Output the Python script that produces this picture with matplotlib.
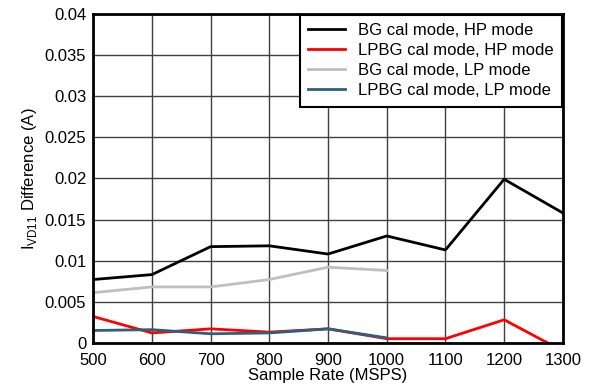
import matplotlib
matplotlib.use("Agg")
import matplotlib.pyplot as plt

plt.rcParams['font.family'] = ['Liberation Sans', 'DejaVu Sans']

# sample rates (MSPS)
rate = [500, 600, 700, 800, 900, 1000, 1100, 1200, 1300]
rate_lp = [500, 600, 700, 800, 900, 1000]

bg_hp = [0.0077, 0.0083, 0.0117, 0.0118, 0.0108, 0.0130, 0.0113, 0.0199, 0.0158]
lpbg_hp = [0.0032, 0.0012, 0.0017, 0.0013, 0.0017, 0.0005, 0.0005, 0.0028, -0.0010]
bg_lp = [0.0061, 0.0068, 0.0068, 0.0077, 0.0092, 0.0088]
lpbg_lp = [0.0015, 0.0016, 0.0011, 0.0012, 0.0017, 0.0006]

fig = plt.figure(figsize=(5.9, 3.9), dpi=100)
ax = fig.add_axes([0.158, 0.121, 0.796, 0.843])

ax.plot(rate, bg_hp, color='black', lw=2, label='BG cal mode, HP mode')
ax.plot(rate, lpbg_hp, color='#ff0000', lw=2, label='LPBG cal mode, HP mode')
ax.plot(rate_lp, bg_lp, color='#bfbfbf', lw=2, label='BG cal mode, LP mode')
ax.plot(rate_lp, lpbg_lp, color='#2f5f7a', lw=2, label='LPBG cal mode, LP mode')

ax.set_xlim(500, 1300)
ax.set_ylim(0, 0.04)
ax.set_xticks(range(500, 1301, 100))
ax.set_yticks([0, 0.005, 0.01, 0.015, 0.02, 0.025, 0.03, 0.035, 0.04])
ax.set_yticklabels(['0', '0.005', '0.01', '0.015', '0.02', '0.025', '0.03', '0.035', '0.04'])
ax.tick_params(labelsize=12, length=0)
ax.tick_params(axis='x', pad=7)
ax.tick_params(axis='y', pad=5)
ax.grid(True, color='#404040', lw=1)
ax.set_axisbelow(True)
for s in ax.spines.values():
    s.set_linewidth(2)

ax.set_xlabel('Sample Rate (MSPS)', fontsize=12, labelpad=0)
ax.set_ylabel('I$_{\\mathregular{VD11}}$ Difference (A)', fontsize=12, labelpad=4)

leg = ax.legend(loc='upper right', fontsize=12, fancybox=False, framealpha=1,
                edgecolor='black', handlelength=2.2, borderaxespad=0.05,
                labelspacing=0.3, borderpad=0.5)
leg.get_frame().set_linewidth(1.5)

fig.savefig('out.png', dpi=100)
